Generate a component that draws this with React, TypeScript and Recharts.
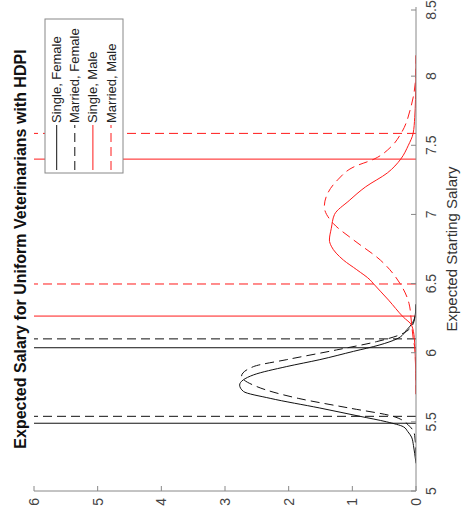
import { LineChart, Line, XAxis, YAxis, ReferenceLine, Label } from 'recharts';

// axis ticks
const SALARY_TICKS = [5, 5.5, 6, 6.5, 7, 7.5, 8, 8.5];
const DENSITY_TICKS = [0, 1, 2, 3, 4, 5, 6];

const SERIES_NAMES = ['Single, Female', 'Married, Female', 'Single, Male', 'Married, Male'];

// density curves (salary -> density)
const SAL_SF = [5.2, 5.27, 5.33, 5.39, 5.43, 5.465, 5.5, 5.54, 5.6, 5.67, 5.72, 5.766, 5.84, 5.9, 5.95, 6.01, 6.055, 6.1, 6.165, 6.22, 6.28, 6.35];
const DEN_SF = [0, 0.02, 0.04, 0.07, 0.13, 0.2, 0.46, 0.88, 1.51, 2.29, 2.71, 2.77, 2.55, 2.03, 1.51, 0.98, 0.58, 0.3, 0.146, 0.05, 0.01, 0];

const SAL_MF = [5.25, 5.4, 5.465, 5.54, 5.6, 5.67, 5.755, 5.83, 5.9, 5.95, 6.02, 6.08, 6.13, 6.19, 6.25, 6.35];
const DEN_MF = [0, 0.02, 0.094, 0.36, 1.05, 1.85, 2.5, 2.74, 2.55, 2.03, 1.25, 0.62, 0.25, 0.07, 0.02, 0];

const SAL_SM = [5.7, 5.85, 6.02, 6.11, 6.2, 6.258, 6.38, 6.5, 6.526, 6.6, 6.67, 6.77, 6.815, 6.9, 7.0, 7.1, 7.2, 7.3, 7.4, 7.5, 7.586, 7.7, 7.83, 8.0, 8.15];
const DEN_SM = [0, 0.005, 0.015, 0.027, 0.07, 0.2, 0.43, 0.67, 0.72, 0.93, 1.14, 1.33, 1.36, 1.33, 1.28, 1.05, 0.79, 0.45, 0.24, 0.12, 0.045, 0.02, 0.008, 0.002, 0];

const SAL_MM = [5.7, 5.85, 6.02, 6.09, 6.21, 6.357, 6.5, 6.67, 6.815, 6.935, 7.056, 7.15, 7.25, 7.345, 7.4, 7.49, 7.586, 7.78, 8.0, 8.15];
const DEN_MM = [0, 0.005, 0.015, 0.04, 0.07, 0.11, 0.25, 0.56, 0.98, 1.3, 1.44, 1.39, 1.23, 0.97, 0.66, 0.39, 0.235, 0.078, 0.005, 0];

// interval bounds drawn as reference lines
const BOUNDS_SF = [5.49, 6.036];
const BOUNDS_MF = [5.54, 6.1];
const BOUNDS_SM = [6.265, 7.4];
const BOUNDS_MM = [6.497, 7.586];

const toPoints = (xs: number[], ys: number[]) => xs.map((x, i) => ({ x, y: ys[i] }));

const SERIES = [
  { data: toPoints(SAL_SF, DEN_SF), bounds: BOUNDS_SF },
  { data: toPoints(SAL_MF, DEN_MF), bounds: BOUNDS_MF },
  { data: toPoints(SAL_SM, DEN_SM), bounds: BOUNDS_SM },
  { data: toPoints(SAL_MM, DEN_MM), bounds: BOUNDS_MM },
];

const STYLES = [
  { color: '#111', dash: undefined },
  { color: '#111', dash: '9 5' },
  { color: '#ff1a1a', dash: undefined },
  { color: '#ff1a1a', dash: '9 5' },
];

const FONT = '"Liberation Sans", Arial, sans-serif';
const AXIS = '#888';
const TEXT = '#444';
const TICK_LEN = 5;
const GAP_X = 10;
const GAP_Y = 7;

function BottomTick({ x, y, payload }: any) {
  const ay = y - GAP_X;
  return (
    <g>
      <line x1={x} x2={x} y1={ay} y2={ay - TICK_LEN} stroke={AXIS} />
      <text x={x} y={y} dy="0.71em" textAnchor="middle" fontSize={14} fontFamily={FONT} fill={TEXT}>
        {payload.value}
      </text>
    </g>
  );
}

function TopTick({ x, y }: any) {
  return <line x1={x} x2={x} y1={y} y2={y + TICK_LEN} stroke={AXIS} />;
}

function LeftTick({ x, y, payload }: any) {
  const ax = x + GAP_Y;
  return (
    <g>
      <line x1={ax} x2={ax + TICK_LEN} y1={y} y2={y} stroke={AXIS} />
      <text x={x} y={y} dy="0.355em" textAnchor="end" fontSize={14} fontFamily={FONT} fill={TEXT}>
        {payload.value}
      </text>
    </g>
  );
}

function RightTick({ x, y }: any) {
  return <line x1={x} x2={x - TICK_LEN} y1={y} y2={y} stroke={AXIS} />;
}

function LegendBox() {
  return (
    <svg
      width={156}
      height={80}
      style={{ position: 'absolute', left: 348, top: 44 }}
    >
      <rect x={1} y={1} width={154} height={78} fill="#fff" stroke={AXIS} />
      {SERIES_NAMES.map((name, i) => {
        const cy = 12.7 + i * 18.1;
        return (
          <g key={name}>
            <line x1={4} x2={49} y1={cy} y2={cy} stroke={STYLES[i].color} strokeDasharray={STYLES[i].dash} />
            <text x={51} y={cy} dy="0.35em" fontSize={13} fontFamily={FONT} fill="#222">
              {name}
            </text>
          </g>
        );
      })}
    </svg>
  );
}

export default function App() {
  return (
    <div style={{ position: 'fixed', left: 0, top: 0, width: 462, height: 522, overflow: 'hidden', background: '#fff' }}>
      <div
        style={{
          position: 'absolute',
          left: 0,
          top: 0,
          width: 522,
          height: 462,
          transformOrigin: '0 0',
          transform: 'translateY(522px) rotate(-90deg)',
          fontFamily: FONT,
        }}
      >
        <LineChart width={522} height={462} margin={{ top: 34, right: 7, bottom: 0, left: 0 }}>
          <XAxis
            xAxisId="b"
            type="number"
            dataKey="x"
            domain={[5, 8.5]}
            ticks={SALARY_TICKS}
            height={46}
            tickSize={0}
            tickMargin={GAP_X}
            tickLine={false}
            tick={<BottomTick />}
            axisLine={{ stroke: AXIS }}
            allowDataOverflow
          >
            <Label
              value="Expected Starting Salary"
              position="insideBottom"
              offset={5}
              style={{ fontSize: 15, fontFamily: FONT, fill: '#333' }}
            />
          </XAxis>
          <XAxis
            xAxisId="t"
            orientation="top"
            type="number"
            domain={[5, 8.5]}
            ticks={SALARY_TICKS}
            height={0}
            tickSize={0}
            tickMargin={0}
            tickLine={false}
            tick={<TopTick />}
            axisLine={{ stroke: AXIS }}
            allowDataOverflow
          />
          <YAxis
            yAxisId="l"
            type="number"
            domain={[0, 6]}
            ticks={DENSITY_TICKS}
            width={31}
            tickSize={0}
            tickMargin={GAP_Y}
            tickLine={false}
            tick={<LeftTick />}
            axisLine={{ stroke: AXIS }}
            allowDataOverflow
          />
          <YAxis
            yAxisId="r"
            orientation="right"
            type="number"
            domain={[0, 6]}
            ticks={DENSITY_TICKS}
            width={0}
            tickSize={0}
            tickMargin={0}
            tickLine={false}
            tick={<RightTick />}
            axisLine={{ stroke: AXIS }}
            allowDataOverflow
          />
          {SERIES.map((s, i) =>
            s.bounds.map((b) => (
              <ReferenceLine
                key={`ref-${i}-${b}`}
                x={b}
                xAxisId="b"
                yAxisId="l"
                stroke={STYLES[i].color}
                strokeDasharray={STYLES[i].dash}
              />
            ))
          )}
          {SERIES.map((s, i) => (
            <Line
              key={SERIES_NAMES[i]}
              name={SERIES_NAMES[i]}
              data={s.data}
              dataKey="y"
              xAxisId="b"
              yAxisId="l"
              type="monotone"
              stroke={STYLES[i].color}
              strokeDasharray={STYLES[i].dash}
              strokeWidth={1}
              dot={false}
              activeDot={false}
              isAnimationActive={false}
            />
          ))}
        </LineChart>
        <div
          style={{
            position: 'absolute',
            left: 31,
            width: 484,
            top: 12,
            textAlign: 'center',
            fontWeight: 'bold',
            fontSize: 16,
            color: '#111',
            whiteSpace: 'nowrap',
          }}
        >
          Expected Salary for Uniform Veterinarians with HDPI
        </div>
        <LegendBox />
      </div>
    </div>
  );
}
